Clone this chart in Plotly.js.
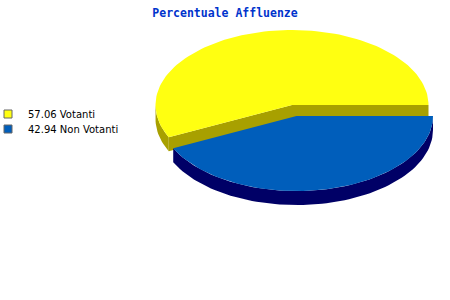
<!DOCTYPE html>
<html>
<head>
<meta charset="utf-8">
<script src="https://cdn.plot.ly/plotly-3.0.1.min.js"></script>
<style>
  html, body { margin: 0; padding: 0; background: #ffffff; }
  #chart { width: 450px; height: 300px; }
</style>
</head>
<body>
<div id="chart"></div>
<script>
// Voter turnout shares
const categories = ['Votanti', 'Non Votanti'];
const percentages = [57.06, 42.94];
const topColors = ['#FFFF11', '#005EBB'];
const sideColors = ['#A8A000', '#000066'];
const explode = [0, 0.15];

// Tilted pie geometry (in the pixel-like axis frame below)
const CX = 292, CY = 105, RX = 136.5, RY = 75, DEPTH = 14;
const STEP = 2; // degrees per arc sample

function pt(c, deg, dy) {
  const r = deg * Math.PI / 180;
  return [c[0] + RX * Math.cos(r), c[1] - RY * Math.sin(r) + (dy || 0)];
}

function arc(c, a0, a1, dy) {
  const pts = [];
  const n = Math.max(2, Math.ceil(Math.abs(a1 - a0) / STEP));
  for (let i = 0; i <= n; i++) pts.push(pt(c, a0 + (a1 - a0) * i / n, dy));
  return pts;
}

function polyTrace(pts, color) {
  const xs = pts.map(p => p[0]), ys = pts.map(p => p[1]);
  xs.push(xs[0]); ys.push(ys[0]);
  return {
    type: 'scatter', mode: 'lines', x: xs, y: ys,
    fill: 'toself', fillcolor: color,
    line: { width: 0, color: color },
    hoverinfo: 'skip', showlegend: false
  };
}

const total = percentages.reduce((a, b) => a + b, 0);
const traces = [];
let start = 0;
percentages.forEach((v, i) => {
  const sweep = 360 * v / total;
  const end = start + sweep;
  const mid = (start + end) / 2;
  const mr = mid * Math.PI / 180;
  const c = [CX + explode[i] * RX * Math.cos(mr), CY - explode[i] * RY * Math.sin(mr)];

  // outer wall: only the front half (180..360 deg) faces the viewer
  const lo = Math.max(start, 180), hi = Math.min(end, 360);
  if (hi > lo) {
    const topArc = arc(c, lo, hi, 0);
    const botArc = arc(c, hi, lo, DEPTH);
    traces.push(polyTrace(topArc.concat(botArc), sideColors[i]));
  }
  // radial cut faces that face the viewer
  [[start, -90], [end, 90]].forEach(([ang, turn]) => {
    if (Math.sin((ang + turn) * Math.PI / 180) < 0) {
      const p = pt(c, ang, 0);
      traces.push(polyTrace([c, p, [p[0], p[1] + DEPTH], [c[0], c[1] + DEPTH]], sideColors[i]));
    }
  });
  // top face
  traces.push(polyTrace([c].concat(arc(c, start, end, 0)), topColors[i]));
  start = end;
});

// legend swatches
const legendIds = ['legend', 'legend2'];
percentages.forEach((v, i) => {
  traces.push({
    type: 'scatter', mode: 'markers', x: [null], y: [null],
    name: v.toFixed(2) + ' ' + categories[i],
    legend: legendIds[i],
    marker: { symbol: 'square', size: 8, color: topColors[i], line: { color: '#666666', width: 1 } },
    showlegend: true, hoverinfo: 'skip'
  });
});

const legendFont = { family: 'DejaVu Sans, Verdana, sans-serif', size: 10, color: '#000000' };
const layout = {
  width: 450, height: 300,
  margin: { l: 0, r: 0, t: 0, b: 0, autoexpand: false },
  paper_bgcolor: '#ffffff', plot_bgcolor: '#ffffff',
  title: {
    text: 'Percentuale Affluenze',
    x: 0.5, xanchor: 'center', y: 1 - 13 / 300, yanchor: 'middle',
    font: { family: 'DejaVu Sans Mono, monospace', size: 11.5, color: '#0033CC', weight: 'bold' }
  },
  xaxis: { range: [0, 450], visible: false, fixedrange: true },
  yaxis: { range: [300, 0], visible: false, fixedrange: true },
  legend: { x: -12 / 450, xanchor: 'left', y: 1 - 114 / 300, yanchor: 'middle', font: legendFont, bgcolor: 'rgba(0,0,0,0)' },
  legend2: { x: -12 / 450, xanchor: 'left', y: 1 - 129 / 300, yanchor: 'middle', font: legendFont, bgcolor: 'rgba(0,0,0,0)' },
  showlegend: true
};

Plotly.newPlot('chart', traces, layout, { displayModeBar: false, staticPlot: true });
</script>
</body>
</html>
